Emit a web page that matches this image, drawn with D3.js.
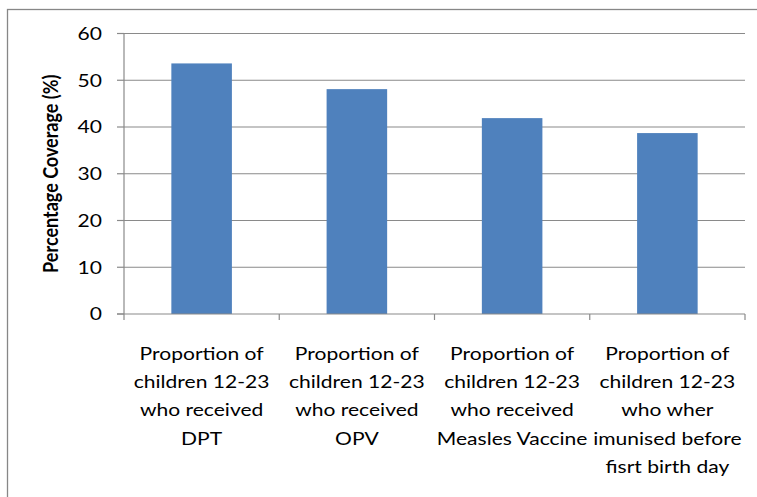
<!DOCTYPE html>
<html>
<head>
<meta charset="utf-8">
<script src="https://cdn.jsdelivr.net/npm/d3@7"></script>
<style>
  body { margin: 0; background: #fff; }
  text { font-family: Lato, "Open Sans", sans-serif; fill: #000; }
</style>
</head>
<body>
<script>
// data
var categories = [
  ["Proportion of", "children 12-23", "who received", "DPT"],
  ["Proportion of", "children 12-23", "who received", "OPV"],
  ["Proportion of", "children 12-23", "who received", "Measles Vaccine"],
  ["Proportion of", "children 12-23", "who wher", "imunised before", "fisrt birth  day"]
];
var coverage = [53.6, 48.1, 41.9, 38.7];
var yTicks = [0, 10, 20, 30, 40, 50, 60];
var yTitle = "Percentage Coverage  (%)";

var width = 757, height = 497;
var stretch = 1.17; // source picture is stretched sideways

var svg = d3.select("body").append("svg")
  .attr("width", width)
  .attr("height", height);

// outer chart border (runs off right and bottom)
svg.append("rect")
  .attr("x", 7.5).attr("y", 9.5)
  .attr("width", 800).attr("height", 600)
  .attr("fill", "none")
  .attr("stroke", "#878787")
  .attr("stroke-width", 1.3);

var x = d3.scaleBand()
  .domain(d3.range(categories.length))
  .range([124, 745])
  .paddingInner(0.61)
  .paddingOuter(0.305);

var y = d3.scaleLinear().domain([0, 60]).range([314, 33.5]);

// gridlines
svg.append("g").selectAll("line")
  .data(yTicks.slice(1))
  .enter().append("line")
  .attr("x1", 124).attr("x2", 745)
  .attr("y1", function (d) { return y(d); })
  .attr("y2", function (d) { return y(d); })
  .attr("stroke", "#8a8a8a")
  .attr("stroke-width", 1.2);

// bars
svg.append("g").selectAll("rect")
  .data(coverage)
  .enter().append("rect")
  .attr("x", function (d, i) { return x(i); })
  .attr("width", x.bandwidth())
  .attr("y", function (d) { return y(d); })
  .attr("height", function (d) { return y(0) - y(d); })
  .attr("fill", "#4f81bd");

// y axis line + ticks
var yAxis = svg.append("g");
yAxis.append("line")
  .attr("x1", 124).attr("x2", 124)
  .attr("y1", y(60)).attr("y2", y(0))
  .attr("stroke", "#8a8a8a").attr("stroke-width", 1.2);
yAxis.selectAll("line.tick")
  .data(yTicks)
  .enter().append("line")
  .attr("class", "tick")
  .attr("x1", 117).attr("x2", 124)
  .attr("y1", function (d) { return y(d); })
  .attr("y2", function (d) { return y(d); })
  .attr("stroke", "#8a8a8a").attr("stroke-width", 1.2);
yAxis.selectAll("text")
  .data(yTicks)
  .enter().append("text")
  .attr("transform", function (d) { return "translate(102," + y(d) + ") scale(" + stretch + ",1)"; })
  .attr("dy", "0.35em")
  .attr("text-anchor", "end")
  .style("font-size", "18px")
  .text(function (d) { return d; });

// x axis line + ticks between categories
var xAxis = svg.append("g");
xAxis.append("line")
  .attr("x1", 117).attr("x2", 745)
  .attr("y1", y(0)).attr("y2", y(0))
  .attr("stroke", "#8a8a8a").attr("stroke-width", 1.2);
var step = x.step();
xAxis.selectAll("line.tick")
  .data(d3.range(categories.length + 1))
  .enter().append("line")
  .attr("class", "tick")
  .attr("x1", function (d) { return 124 + d * step; })
  .attr("x2", function (d) { return 124 + d * step; })
  .attr("y1", y(0)).attr("y2", y(0) + 6)
  .attr("stroke", "#8a8a8a").attr("stroke-width", 1.2);

// category labels
var labels = svg.append("g").selectAll("g")
  .data(categories)
  .enter().append("g")
  .attr("transform", function (d, i) { return "translate(" + (x(i) + x.bandwidth() / 2) + ",0)"; });
labels.selectAll("text")
  .data(function (d) { return d; })
  .enter().append("text")
  .attr("transform", function (d, j) { return "translate(0," + (353.5 + j * 28.3) + ") scale(" + stretch + ",1)"; })
  .attr("dy", "0.35em")
  .attr("text-anchor", "middle")
  .style("font-size", "18px")
  .text(function (d) { return d; });

// y title
svg.append("text")
  .attr("transform", "translate(51," + ((y(0) + y(60)) / 2) + ") rotate(-90) scale(1," + stretch + ")")
  .attr("dy", "0.35em")
  .attr("text-anchor", "middle")
  .style("font-size", "18px")
  .style("font-weight", "bold")
  .text(yTitle);
</script>
</body>
</html>
